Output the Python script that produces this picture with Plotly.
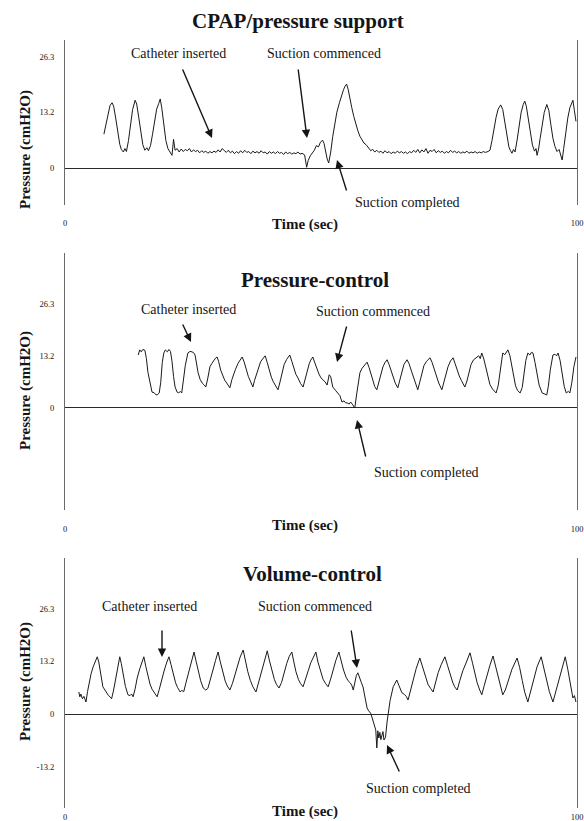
import plotly.graph_objects as go

# ---------------- data ----------------
panel_titles = ["CPAP/pressure support", "Pressure-control", "Volume-control"]
x_tick_vals = [0, 100]
x_tick_text = ["0", "100"]
y_tick_vals_12 = [0, 13.2, 26.3]
y_tick_text_12 = ["0", "13.2", "26.3"]
y_tick_vals_3 = [-13.2, 0, 13.2, 26.3]
y_tick_text_3 = ["-13.2", "0", "13.2", "26.3"]

cpap_time = [7.6, 8.0, 8.4, 8.8, 9.2, 9.5, 9.9, 10.3, 10.7, 11.0, 11.4, 11.7, 12.0, 12.4, 12.8, 13.2, 13.7,
             14.0, 14.4, 14.8, 15.2, 15.6, 16.0, 16.3, 16.7, 17.1, 17.5, 17.9, 18.3, 18.6, 18.9, 19.3, 19.7,
             20.1, 20.5, 20.9, 21.2, 21.5, 21.9, 22.3, 22.7, 23.1, 23.5, 23.9, 24.3, 24.7, 25.1, 25.5, 25.9,
             26.3, 26.7, 27.1, 27.5, 27.9, 28.3, 28.7, 29.1, 29.5, 29.9, 30.3, 30.7, 31.1, 31.5, 31.9, 32.3,
             32.7, 33.1, 33.5, 33.9, 34.3, 34.7, 35.1, 35.5, 35.9, 36.3, 36.7, 37.1, 37.5, 37.9, 38.3, 38.7,
             39.1, 39.5, 39.9, 40.3, 40.7, 41.1, 41.5, 41.9, 42.3, 42.7, 43.1, 43.5, 43.9, 44.3, 44.7, 45.1,
             45.5, 45.9, 46.3, 46.8, 47.2, 47.5, 47.9, 48.3, 48.7, 49.1, 49.5, 49.9, 50.3, 50.6, 50.9, 51.2,
             51.5, 51.9, 52.3, 52.7, 53.1, 53.6, 54.0, 54.4, 54.7, 55.0, 55.3, 55.6, 56.0, 56.4, 56.8, 57.2,
             57.6, 58.0, 58.4, 58.9, 59.3, 59.7, 60.1, 60.5, 60.9, 61.3, 61.7, 62.1, 62.5, 62.9, 63.3, 63.7,
             64.1, 64.5, 64.9, 65.3, 65.7, 66.1, 66.5, 66.9, 67.3, 67.7, 68.1, 68.5, 68.9, 69.3, 69.7, 70.1,
             70.5, 70.9, 71.3, 71.7, 72.1, 72.5, 72.9, 73.3, 73.7, 74.1, 74.5, 74.9, 75.3, 75.7, 76.1, 76.5,
             76.9, 77.3, 77.7, 78.1, 78.5, 78.9, 79.3, 79.7, 80.1, 80.5, 80.9, 81.3, 81.7, 82.1, 82.6, 83.0,
             83.4, 83.8, 84.2, 84.6, 85.1, 85.5, 85.9, 86.3, 86.7, 87.0, 87.3, 87.6, 87.9, 88.3, 88.7, 89.1,
             89.5, 89.8, 90.1, 90.5, 90.9, 91.3, 91.7, 92.0, 92.2, 92.5, 92.8, 93.2, 93.6, 94.1, 94.5, 94.9,
             95.3, 95.7, 96.1, 96.5, 96.8, 97.1, 97.4, 97.8, 98.2, 98.6, 99.0, 99.2, 99.5, 99.8]
cpap_pressure = [8.0, 10.5, 13.0, 14.8, 15.4, 14.6, 11.8, 8.2, 5.6, 4.4, 3.8, 4.6, 3.9, 6.5, 10.2, 13.8, 16.0,
                 15.1, 12.0, 8.4, 5.5, 4.2, 4.8, 4.1, 5.3, 8.0, 11.2, 13.9, 15.2, 16.3, 14.2, 10.1, 6.5,
                 4.6, 3.7, 3.0, 6.8, 4.2, 4.6, 3.8, 4.5, 3.9, 4.4, 4.1, 4.6, 3.8, 4.3, 3.9, 4.2,
                 3.6, 4.1, 3.7, 4.0, 3.5, 3.9, 3.6, 4.0, 3.7, 4.3, 3.8, 4.6, 4.1, 3.7, 4.2, 3.6,
                 4.0, 3.4, 3.9, 3.5, 4.1, 3.6, 4.2, 3.7, 3.9, 3.4, 4.0, 3.6, 3.9, 3.5, 4.1, 3.6,
                 3.8, 3.3, 3.9, 3.5, 3.8, 3.4, 3.9, 3.5, 3.7, 3.2, 3.8, 3.4, 3.7, 3.3, 3.6, 3.4,
                 3.8, 3.3, 3.5, 3.1, 0.2, 1.8, 2.9, 3.6, 4.2, 5.3, 5.0, 6.1, 6.6, 5.8, 3.9, 2.2,
                 1.2, 3.8, 7.5, 10.6, 13.2, 15.4, 17.2, 18.5, 19.3, 19.8, 18.6, 16.5, 14.3, 12.2, 10.4, 8.8,
                 7.5, 6.6, 5.9, 5.4, 4.6, 4.1, 4.4, 3.8, 4.2, 3.7, 4.0, 3.5, 4.1, 3.6, 3.9, 3.4,
                 3.8, 3.5, 4.0, 3.6, 3.9, 3.5, 3.8, 3.4, 3.9, 3.6, 4.2, 3.7, 4.4, 3.6, 4.3, 3.8,
                 4.6, 3.5, 4.2, 3.9, 4.4, 3.6, 4.1, 3.7, 4.0, 3.5, 3.9, 3.6, 4.2, 3.7, 4.0, 3.6,
                 3.9, 3.5, 3.8, 3.6, 4.0, 3.5, 3.8, 3.6, 3.9, 3.5, 3.8, 3.6, 3.9, 3.7, 3.9, 4.2,
                 6.5, 9.4, 12.0, 13.9, 14.9, 13.8, 10.5, 7.2, 5.0, 4.1, 3.5, 4.4, 3.8, 6.6, 10.2, 13.2,
                 15.0, 15.8, 14.6, 11.4, 7.9, 5.4, 4.0, 4.6, 3.0, 4.5, 7.0, 10.3, 13.1, 15.0, 13.6, 10.2,
                 7.0, 5.1, 3.9, 4.4, 2.8, 1.9, 4.6, 8.5, 11.8, 14.2, 15.4, 16.0, 13.5, 11.0]

pc_time = [14.3, 14.6, 14.9, 15.2, 15.6, 15.9, 16.2, 16.6, 17.0, 17.4, 17.7, 18.0, 18.4, 18.7, 19.0, 19.3,
           19.6, 20.0, 20.3, 20.6, 20.9, 21.2, 21.5, 21.9, 22.2, 22.5, 22.8, 23.1, 23.5, 24.0, 24.4, 24.8,
           25.1, 25.4, 25.7, 26.0, 26.4, 26.8, 27.2, 27.5, 27.9, 28.3, 28.7, 29.1, 29.4, 29.7, 30.0, 30.4,
           30.8, 31.2, 31.6, 32.0, 32.2, 32.6, 33.0, 33.3, 33.8, 34.2, 34.6, 35.0, 35.4, 35.8, 36.2, 36.7,
           37.0, 37.4, 37.8, 38.2, 38.6, 39.1, 39.5, 39.9, 40.3, 40.7, 41.2, 41.6, 42.0, 42.4, 42.8, 43.3,
           43.9, 44.3, 44.7, 45.1, 45.5, 46.0, 46.5, 46.9, 47.3, 47.7, 48.0, 48.4, 48.8, 49.2, 49.6, 50.0,
           50.4, 50.8, 51.2, 51.6, 51.9, 52.3, 52.8, 53.3, 53.7, 54.1, 54.5, 54.8, 55.1, 55.5, 55.8, 56.2,
           56.6, 57.0, 57.3, 57.6, 58.0, 58.5, 59.0, 59.4, 59.8, 60.2, 60.5, 60.9, 61.3, 61.7, 62.1, 62.5,
           62.9, 63.3, 63.7, 64.1, 64.5, 65.0, 65.4, 65.8, 66.2, 66.8, 67.2, 67.6, 68.0, 68.4, 68.9, 69.3,
           69.7, 70.1, 70.6, 71.3, 71.7, 72.1, 72.5, 73.0, 73.6, 74.0, 74.4, 74.8, 75.3, 75.8, 76.2, 76.6,
           77.0, 77.4, 78.1, 78.5, 78.9, 79.3, 79.8, 80.3, 80.8, 81.1, 81.4, 81.8, 82.2, 82.6, 83.0, 83.5,
           84.2, 84.6, 84.9, 85.2, 85.5, 85.9, 86.2, 86.5, 86.9, 87.2, 87.6, 88.0, 88.4, 88.9, 89.3, 89.7,
           90.0, 90.4, 90.8, 91.1, 91.4, 91.8, 92.2, 92.6, 93.2, 93.6, 94.1, 94.4, 94.8, 95.3, 95.7, 96.0,
           96.3, 96.7, 97.1, 97.5, 97.9, 98.3, 98.6, 99.0, 99.4, 99.8]
pc_pressure = [13.4, 14.7, 14.2, 14.8, 14.6, 12.5, 9.0, 6.3, 4.0, 3.9, 3.4, 3.3, 3.8, 6.5, 11.5, 13.9,
               14.7, 14.2, 14.8, 14.3, 11.8, 8.0, 5.3, 4.0, 3.8, 4.2, 3.8, 6.8, 10.8, 13.9, 14.3, 14.2,
               14.0, 13.4, 11.2, 8.9, 7.2, 6.3, 5.8, 5.3, 7.6, 10.4, 11.3, 12.2, 12.6, 12.9, 11.8, 9.6,
               8.0, 7.0, 6.3, 5.5, 5.1, 7.2, 9.0, 9.8, 11.3, 12.2, 12.9, 11.6, 9.7, 8.0, 6.8, 5.3,
               6.9, 8.7, 10.5, 11.7, 12.4, 13.2, 11.5, 9.5, 7.8, 6.6, 5.5, 4.6, 6.6, 9.2, 11.0, 12.3,
               13.4, 11.8, 9.9, 8.5, 7.6, 6.2, 5.3, 7.4, 9.4, 11.2, 12.1, 12.9, 11.4, 9.8, 8.6, 7.6,
               7.1, 6.6, 5.8, 8.4, 7.9, 5.3, 4.5, 3.8, 3.1, 1.5, 1.8, 1.3, 1.3, 1.0, 1.5, 0.8,
               0.0, 3.8, 6.2, 8.9, 10.0, 10.8, 11.6, 10.2, 8.4, 6.6, 5.4, 4.6, 6.4, 8.7, 10.4, 11.5,
               12.2, 11.0, 9.3, 7.6, 6.3, 5.1, 7.1, 9.4, 11.0, 12.2, 11.2, 9.6, 7.9, 6.1, 4.6, 6.6,
               8.9, 10.7, 11.8, 12.7, 11.5, 9.8, 8.0, 6.3, 4.6, 6.4, 8.6, 10.4, 11.9, 12.7, 11.2, 9.4,
               8.1, 7.0, 5.3, 6.8, 9.2, 11.0, 12.2, 12.6, 13.2, 12.5, 13.9, 12.4, 10.0, 7.6, 5.9, 4.8,
               3.8, 5.6, 8.6, 11.5, 13.9, 13.5, 14.3, 14.7, 13.2, 11.0, 8.0, 5.6, 4.4, 3.8, 5.2, 9.0,
               12.0, 13.9, 13.4, 14.1, 13.9, 11.5, 8.4, 5.8, 3.8, 3.6, 3.3, 5.5, 9.8, 13.4, 13.6, 13.2,
               13.9, 12.0, 8.6, 5.5, 3.8, 4.2, 3.8, 6.5, 10.5, 12.9]

vc_time = [2.7, 2.9, 3.1, 3.4, 3.7, 4.1, 4.4, 4.8, 5.1, 5.5, 5.9, 6.3, 6.6, 6.9, 7.2, 7.4, 7.8, 8.1, 8.5,
           8.8, 9.1, 9.5, 9.9, 10.3, 10.7, 11.0, 11.4, 11.8, 12.3, 12.7, 13.0, 13.3, 13.7, 14.1, 14.6,
           15.0, 15.4, 15.8, 16.2, 16.6, 17.0, 17.5, 18.0, 18.4, 18.9, 19.4, 19.9, 20.3, 20.7, 21.1, 21.6,
           22.0, 22.5, 22.8, 23.2, 23.6, 24.1, 24.6, 25.2, 25.6, 26.0, 26.5, 27.0, 27.5, 27.9, 28.4, 28.9,
           29.4, 29.9, 30.3, 30.8, 31.3, 31.7, 32.2, 32.7, 33.2, 33.7, 34.2, 34.8, 35.2, 35.7, 36.2, 36.7,
           37.3, 37.8, 38.3, 38.9, 39.5, 39.9, 40.4, 40.9, 41.3, 41.8, 42.3, 42.8, 43.3, 43.8, 44.3, 44.7,
           45.1, 45.6, 46.0, 46.5, 47.0, 47.5, 48.0, 48.5, 49.0, 49.4, 49.9, 50.4, 50.9, 51.4, 51.9, 52.4,
           52.9, 53.5, 53.9, 54.4, 54.9, 55.3, 55.7, 56.0, 56.3, 56.6, 56.9, 57.2, 57.5, 57.9, 58.2, 58.6,
           59.0, 59.3, 59.7, 60.0, 60.4, 60.7, 60.9, 61.1, 61.3, 61.5, 61.7, 61.9, 62.1, 62.3, 62.6, 62.9,
           63.1, 63.5, 64.1, 64.5, 64.8, 65.2, 65.8, 66.3, 66.7, 67.0, 67.5, 68.0, 68.6, 69.3, 69.8, 70.4,
           70.9, 71.4, 71.9, 72.4, 72.9, 73.5, 74.2, 74.7, 75.2, 75.7, 76.1, 76.6, 77.1, 77.7, 78.4, 79.1,
           79.6, 80.1, 80.5, 81.0, 81.4, 81.9, 82.4, 83.0, 83.6, 84.1, 84.6, 85.0, 85.5, 86.0, 86.6, 87.3,
           88.3, 88.8, 89.3, 89.8, 90.4, 90.9, 91.5, 92.2, 93.0, 93.5, 94.0, 94.6, 95.3, 95.8, 96.4, 97.0,
           97.7, 98.2, 98.7, 99.2, 99.5, 99.8]
vc_pressure = [5.5, 4.3, 5.0, 3.8, 4.4, 3.0, 5.6, 8.4, 10.1, 11.8, 13.2, 14.3, 13.0, 10.6, 8.2, 6.8, 6.0, 5.3, 4.6,
               4.3, 3.8, 6.0, 8.8, 11.6, 14.3, 12.6, 9.5, 6.9, 4.8, 4.6, 5.0, 4.3, 6.3, 9.0, 11.3,
               12.9, 14.3, 11.8, 9.2, 7.5, 6.2, 5.3, 4.3, 6.1, 8.8, 11.0, 13.0, 14.3, 12.4, 10.0, 7.8,
               6.6, 5.5, 5.9, 5.6, 7.7, 10.3, 12.8, 15.5, 13.2, 10.6, 8.3, 6.5, 6.0, 6.4, 8.5, 11.0,
               13.4, 15.5, 13.2, 10.4, 8.2, 7.0, 6.0, 7.6, 10.0, 12.2, 14.2, 16.0, 13.4, 10.6, 8.4, 6.8,
               5.5, 7.8, 10.6, 13.4, 15.8, 13.5, 10.8, 8.6, 7.4, 6.5, 7.9, 10.4, 12.6, 14.4, 15.5, 13.0,
               10.6, 8.6, 7.6, 6.8, 8.6, 10.8, 12.8, 14.2, 15.5, 13.0, 10.6, 8.7, 7.6, 6.8, 8.8, 11.2,
               13.4, 15.5, 13.4, 11.0, 9.2, 8.3, 7.8, 7.2, 6.0, 8.0, 9.6, 10.3, 9.4, 7.8, 6.8, 4.2,
               1.5, 0.8, 0.2, -1.0, -2.5, -4.0, -8.5, -4.2, -6.0, -4.6, -6.4, -5.3, -4.4, -6.5, -5.8, -2.0,
               0.3, 3.4, 6.8, 7.8, 8.5, 7.2, 5.3, 4.9, 4.3, 3.5, 6.0, 8.8, 11.4, 14.0, 11.8, 9.2,
               7.4, 6.4, 5.5, 8.0, 10.4, 12.4, 14.3, 12.2, 9.8, 8.0, 6.8, 6.0, 8.3, 10.8, 13.0, 15.3,
               12.7, 10.0, 7.8, 6.0, 4.8, 7.2, 9.8, 12.2, 14.5, 12.0, 9.2, 7.0, 4.8, 6.0, 8.4, 11.2,
               14.0, 11.6, 8.4, 5.4, 3.0, 5.6, 8.6, 11.8, 14.3, 11.4, 8.6, 5.6, 3.0, 5.4, 8.6, 11.6,
               14.3, 11.2, 7.6, 4.0, 4.6, 3.0]

# ---------------- figure ----------------
W, H = 584, 821
FONT = "Liberation Serif, Times New Roman, serif"
INK = "#151515"


def px(x):
    return x / W


def py(y):
    return 1 - y / H


fig = go.Figure()
series = [(cpap_time, cpap_pressure), (pc_time, pc_pressure), (vc_time, vc_pressure)]
for i, (t, p) in enumerate(series):
    suffix = "" if i == 0 else str(i + 1)
    fig.add_trace(go.Scatter(x=t, y=p, mode="lines", xaxis="x" + suffix, yaxis="y" + suffix,
                             line=dict(color="#1a1a1a", width=1), showlegend=False, hoverinfo="skip"))

# panel geometry (pixel top/bottom of y axis line, y range, x tick label standoff)
panels = [
    dict(top=40, bottom=205, rng=[-8.7, 30.2], tv=y_tick_vals_12, tt=y_tick_text_12, xs=11),
    dict(top=253, bottom=510, rng=[-25.8, 39.2], tv=y_tick_vals_12, tt=y_tick_text_12, xs=12),
    dict(top=558, bottom=808, rng=[-23.5, 39.0], tv=y_tick_vals_3, tt=y_tick_text_3, xs=2),
]
xdom = [px(65), px(577)]
layout = dict(width=W, height=H, margin=dict(l=0, r=0, t=0, b=0, autoexpand=False),
              paper_bgcolor="white", plot_bgcolor="white", showlegend=False,
              font=dict(family=FONT, color=INK))
for i, pnl in enumerate(panels):
    suffix = "" if i == 0 else str(i + 1)
    layout["xaxis" + suffix] = dict(domain=xdom, range=[0, 100], anchor="y" + suffix, automargin=False,
                                    showline=False, showgrid=False, zeroline=False,
                                    tickvals=x_tick_vals, ticktext=x_tick_text, ticks="",
                                    ticklabelstandoff=pnl["xs"], tickfont=dict(size=8.5, family=FONT, color=INK))
    layout["yaxis" + suffix] = dict(domain=[py(pnl["bottom"]), py(pnl["top"])], range=pnl["rng"],
                                    anchor="x" + suffix, automargin=False, showline=True, mirror=True,
                                    linecolor="#6a6a6a", linewidth=1, showgrid=False,
                                    zeroline=True, zerolinecolor="#2a2a2a", zerolinewidth=1,
                                    tickvals=pnl["tv"], ticktext=pnl["tt"], ticks="",
                                    ticklabelstandoff=8, tickfont=dict(size=8.5, family=FONT, color=INK))
fig.update_layout(**layout)

ann = []


def text(x, y, s, size=14, bold=False, angle=0):
    ann.append(dict(xref="paper", yref="paper", x=px(x), y=py(y), text=("<b>%s</b>" % s) if bold else s,
                    showarrow=False, xanchor="center", yanchor="middle", textangle=angle,
                    font=dict(family=FONT, size=size, color=INK)))


def arrow(tx, ty, hx, hy):
    ann.append(dict(xref="paper", yref="paper", x=px(hx), y=py(hy), ax=tx - hx, ay=ty - hy,
                    axref="pixel", ayref="pixel", text="", showarrow=True, arrowhead=2,
                    arrowsize=1.2, arrowwidth=1.4, arrowcolor=INK, standoff=0, startstandoff=0))


# titles
text(298, 21, panel_titles[0], size=21, bold=True)
text(315, 280, panel_titles[1], size=21, bold=True)
text(312, 574, panel_titles[2], size=21, bold=True)
# axis titles
for yc in (150, 391, 682):
    text(25, yc, "Pressure (cmH2O)", size=15, bold=True, angle=-90)
for yc in (224, 525, 811):
    text(305, yc, "Time (sec)", size=15, bold=True)

# panel 1 annotations
text(178, 54, "Catheter inserted")
text(324, 54, "Suction commenced")
text(407, 202, "Suction completed")
arrow(182, 68, 212, 138)
arrow(298, 68, 307, 138)
arrow(347, 192, 337, 160)
# panel 2 annotations
text(188, 309, "Catheter inserted")
text(373, 311, "Suction commenced")
text(426, 472, "Suction completed")
arrow(182, 323, 191, 342)
arrow(347, 325, 337, 362)
arrow(366, 458, 357, 420)
# panel 3 annotations
text(149, 606, "Catheter inserted")
text(315, 606, "Suction commenced")
text(418, 788, "Suction completed")
arrow(162, 629, 162, 657)
arrow(351, 629, 357, 668)
arrow(400, 773, 387, 745)

fig.update_layout(annotations=ann)
# the page's default 8px body margin would push the figure off its 584x821 frame
fig.write_html("out.html", config={"displayModeBar": False, "staticPlot": True},
               post_script="document.body.style.margin='0';document.body.style.overflow='hidden';")
